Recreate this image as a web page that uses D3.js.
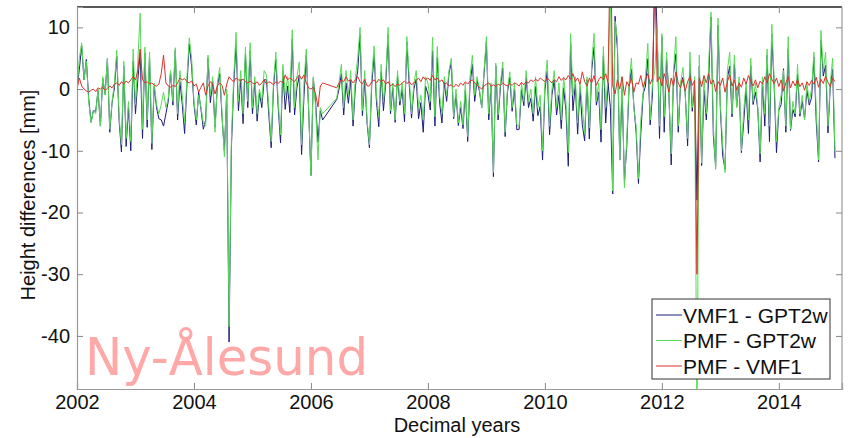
<script src="https://d3js.org/d3.v7.min.js"></script>

<style>
  body { margin: 0; background: #fff; }
  text { font-family: Arial, "Liberation Sans", sans-serif; fill: #111; }
</style>

<body>
<div id="vis"></div>

<script>
  // samples every 0.04 yr starting at 2002.00 (25 per year), null = no data
  const startYear = 2002
  const stepYear = 0.04

  const pmfGpt2w = [
    0, 5, 7.5, 1.5, 4.5, -2, -5.5, -3.5, -4, 0, -6, 2, -1, 5, -6.5, -2, 1, 6.3, -4.5, -9, 4.5, -8, -2, -8.5, 6.5,
    -2.5, 4.5, 12.3, -6.5, 6.8, -5, 6, -8.8, 1, -2.5, -4, -2.5, -0.5, -3, -1.5, 3, -2, 6.7, -4, 3, -1, -5.5, 2, 8.3, 5,
    -2, -5, -1, -3, -5.5, -6, 5.5, -1, 2, -7, 1, 3.5, -4, -11, 0, -38.5, -8, 2, 9.2, -2, 3, -4, 6.8, -2, 7.5,
    -3, 2, -4, 0, -2, 3, 2.3, -3, -8.5, 1, 6, -2, -7.4, 4, -1, 2, -2, 9.6, -3, 2, 4.4, -9, 1, 6.5, -3,
    -14, 2, -3, -11.5, -3, -4, null, null, null, null, null, -1.5, 1, 4, -3, 3, -1, 3, -5, 2, 5, 10, -3.5, 3, -5,
    -9, 2, 7, -1, -4.5, 4, -2, 2, 10, -3.5, 1, -5, 3, -2, 1, -4, 8.5, 2, -4, 1, 3, -3, -1, -5, 2,
    1, -2, 8.4, -4.5, 6.9, -1, -4, 2, -1, 3, 5, -4.5, 0, -5.5, -2, -5.8, 1, -7.7, 2, 5.5, -1, 2, 0, -3, 3,
    8.5, -4, 1, -13.5, 4.2, -4.2, 1, 4.4, -7, 0, 2.8, -3, 1, -5.8, -6, 1, -2, 3, -2, 0, -4, 2, -3, -1, -10,
    1, 4.7, -6, 0, 3, -3, 1, -5, 2, -2, -10.3, 9, -1, 2, -5.5, 1, -3, -7.2, 2, -6.3, 4, 9, -2, 1, -6.6,
    6.9, -3, 2, 16, -16.5, 11, 8, -11.5, 2, -16, -8, 1, 5, -3, -6, -14.5, -5, -0.5, 2, 7.4, -5, 1, 3, 10, -6,
    9, -4.5, 6, -1, -10.5, 3, 8.5, -6, 1, 3.5, -1, -8, 6, -3, 2, -55, 5.5, -12, 2, -4, 4, 12.5, -6, -13, 11.5,
    -2.5, -9, -13.5, 3, 6, -4, 5.5, -3, 2, -10, -3.5, 1, -5, 5, -2, 1, -3, -10.5, 2, -4, 6.5, -6, 10.5, 1.5, -8.5,
    -3, -1, 3, -6, 8.5, -6.5, -2, -4, 4, -4, -1, -5, 1, -2, 0, 6, -3.5, -11.5, 9.5, 3, 6, -6, 1, 5, -10
  ]

  const vmf1Gpt2w = [
    0, 3.2, 7, 1.5, 4.8, -1.5, -5.3, -3.5, -3.6, -0.2, -6, 1.7, -0.8, 4.9, -7, -2.2, 0.2, 5.3, -5.1, -10.2, 3.7, -9.3, -3, -10, 4.5,
    -4, 1.5, 5.8, -8, 5.8, -6.2, 5.2, -9.8, 0.4, -3, -4.8, -5, -6, -4, -2, 2.7, -2.6, 6.3, -5, 1.2, -2.5, -7.2, 0.8, 7.3, 3.7,
    -2.5, -5.8, -0.5, -3.3, -6.5, -5, 5, -2.2, 1.2, -6.2, 0.5, 2.5, -4.6, -10, -0.8, -41, -9.5, 0.8, 7.4, -3.5, 1.6, -5.6, 5.6, -3, 6.2,
    -4, 1.2, -5.2, -0.6, -3, 1.5, 1.5, -4.2, -9.5, 0.3, 4.8, -2.9, -8.7, 3, -3.3, 0.5, -3.8, 8.1, -4.2, 0.2, 2.1, -10.6, -1.3, 5.5, -3.2,
    -14, 1.7, -2.2, -8.6, -3.5, -5, null, null, null, null, null, -1.7, 0, 2.5, -4.2, 1, -2.3, 1.5, -6, 0.5, 3, 8.8, -4.3, 1.4, -5.5,
    -9.5, 0.8, 5.5, -2, -6.1, 2.8, -3.5, 1.2, 8.8, -4, 0.2, -5.4, 2.1, -2.6, 0, -5.3, 7.6, 0.8, -4.7, 0, 1.6, -4.8, -2.2, -7, 0.5,
    -0.8, -3.4, 6.2, -6, 5.1, -2.2, -5.5, 1.2, -2, 2.5, 4.3, -4.8, -0.8, -5.9, -3, -6.4, -0.2, -8.5, 0.7, 4, -2, 1.4, -0.3, -3, 2.5,
    7.7, -5, 0.5, -14.2, 3.8, -5, 0.4, 3.4, -7.7, -0.5, 1.9, -3.6, 0, -6.6, -6.5, -0.1, -2.7, 1.8, -3, -1.5, -5.2, 0.4, -4.3, -2.8, -11.5,
    -0.2, 2.9, -7.4, -1, 1.5, -4.2, -1, -6.4, 0.2, -3.5, -12.5, 7.4, -3.5, 0.8, -7.3, 0.2, -5.8, -8.4, 1.5, -8.1, 3, 6.8, -2.6, -0.5, -8.6,
    5.4, -5.5, 1, -3, -17, 11.8, 6.5, -11.5, 0, -15, -9.2, 0.5, 3.2, -2.5, -7, -15.3, -7.2, -0.8, 0.5, 4.9, -5.8, -0.8, 20, 8.8, -8,
    8.5, -7, 4.8, -0.5, -12.3, 2.5, 5.7, -7, 0.8, 1.9, -0.7, -9.2, 4, -3.6, 0.6, -18, 3.7, -12.4, -0.2, -5, 1.5, 11.7, -7.5, -12.6, 10.3,
    -3.1, -10.8, -13, 1.8, 3.7, -4.5, 4, -2.8, 1, -10.3, -5.3, 0.2, -7.2, 3.8, -2.5, -0.5, -3.2, -11.8, 1.2, -6, 5.5, -8.5, 8.9, 0.6, -10.3,
    -3.4, -2.5, 3.3, -7, 6.5, -6.7, -3.3, -4.5, 2.4, -4.4, -2, -4.8, -0.2, -2.6, -1.4, 5.2, -5.4, -11.8, 7.9, 2.1, 3.9, -7.1, 0.6, 3.2, -11.2
  ]

  const pmfVmf1 = [
    0, 1.8, 0.5, 0, -0.3, -0.5, -0.2, 0, -0.4, 0.2, 0, 0.3, -0.2, 0.1, 0.5, 0.2, 0.8, 1, 0.6, 1.2, 0.8, 1.3, 1, 1.5, 2,
    1.5, 3, 6.5, 1.5, 1, 1.2, 0.8, 1, 0.6, 0.5, 0.8, 2.5, 5.5, 1, 0.5, 0.3, 0.6, 0.4, 1, 1.8, 1.5, 1.7, 1.2, 1, 1.3,
    0.5, 0.8, -0.5, 0.3, 1, -1, 0.5, 1.2, 0.8, -0.8, 0.5, 1, 0.6, -1, 0.8, 2, 1.5, 1.2, 1.8, 1.5, 1.4, 1.6, 1.2, 1, 1.3,
    1, 0.8, 1.2, 0.6, 1, 1.5, 0.8, 1.2, 1, 0.7, 1.2, 0.9, 1.3, 1, 2.3, 1.5, 1.8, 1.5, 1.2, 1.8, 2.3, 1.6, 2.3, 1, 0.2,
    0, 0.3, -0.8, -2.9, 0.5, 1, null, null, null, null, null, 0.2, 1, 1.5, 1.2, 2, 1.3, 1.5, 1, 1.5, 2, 1.2, 0.8, 1.6, 0.5,
    0.5, 1.2, 1.5, 1, 1.6, 1.2, 1.5, 0.8, 1.2, 0.5, 0.8, 0.4, 0.9, 0.6, 1, 1.3, 0.9, 1.2, 0.7, 1, 1.4, 1.8, 1.2, 2, 1.5,
    1.8, 1.4, 2.2, 1.5, 1.8, 1.2, 1.5, 0.8, 1, 0.5, 0.7, 0.3, 0.8, 0.4, 1, 0.6, 1.2, 0.8, 1.3, 1.5, 1, 0.6, 0.3, 0, 0.5,
    0.8, 1, 0.5, 0.7, 0.4, 0.8, 0.6, 1, 0.7, 0.5, 0.9, 0.6, 1, 0.8, 0.5, 1.1, 0.7, 1.2, 1, 1.5, 1.2, 1.6, 1.3, 1.8, 1.5,
    1.2, 1.8, 1.4, 1, 1.5, 1.2, 2, 1.4, 1.8, 1.5, 2.2, 1.6, 2.5, 1.2, 1.8, 0.8, 2.8, 1.2, 0.5, 1.8, 1, 2.2, 0.6, 1.5, 2,
    1.5, 2.5, 1, 25, 0.5, -0.8, 1.5, 0, 2, -1, 1.2, 0.5, 1.8, -0.5, 1, 0.8, 2.2, 0.3, 1.5, 2.5, 0.8, 1.8, 18, 1.2, 2,
    0.5, 2.5, 1.2, -0.5, 1.8, 0.5, 2.8, 1, 0.2, 1.6, -0.3, 1.2, 2, 0.6, 1.4, -30, 1.8, 0.4, 2.2, 1, 2.5, 0.8, 1.5, -0.4, 1.2,
    0.6, 1.8, -0.5, 1.2, 2.3, 0.5, 1.5, -0.2, 1, 0.3, 1.8, 0.8, 2.2, 1.2, 0.5, 1.5, 0.2, 1.3, 0.8, 2, 1, 2.5, 1.6, 0.9, 1.8,
    0.4, 1.5, -0.3, 1, 2, 0.2, 1.3, 0.5, 1.6, 0.4, 1, -0.2, 1.2, 0.6, 1.4, 0.8, 1.9, 0.3, 1.6, 0.9, 2.1, 1.1, 0.4, 1.8, 1.2
  ]

  const xTicks = [2002, 2004, 2006, 2008, 2010, 2012, 2014]
  const yTicks = [10, 0, -10, -20, -30, -40]
  const seriesNames = ['VMF1 - GPT2w', 'PMF - GPT2w', 'PMF - VMF1']
  const seriesColors = ['#1c1c7a', '#5ada5a', '#d8332b']

  const width = 850, height = 438
  const plotLeft = 77, plotRight = 842, plotTop = 7, plotBottom = 389

  let svg = d3.select('#vis').append('svg')
    .attr('width', width)
    .attr('height', height)

  let x = d3.scaleLinear().domain([2002, 2015.08]).range([plotLeft, plotRight])
  let y = d3.scaleLinear().domain([-48.6, 13.3]).range([plotBottom, plotTop])

  svg.append('clipPath').attr('id', 'plotClip')
    .append('rect')
    .attr('x', plotLeft).attr('y', plotTop)
    .attr('width', plotRight - plotLeft).attr('height', plotBottom - plotTop)

  // turn a value array into points, gaps are just skipped so the line joins over them
  function toPoints(values) {
    return values
      .map(function (v, i) { return {t: startYear + i * stepYear, v: v} })
      .filter(function (d) { return d.v !== null })
  }

  let line = d3.line()
    .x(function (d) { return x(d.t) })
    .y(function (d) { return y(d.v) })

  let allSeries = [vmf1Gpt2w, pmfGpt2w, pmfVmf1]

  svg.append('g')
    .attr('clip-path', 'url(#plotClip)')
    .selectAll('path')
    .data(allSeries)
    .enter()
    .append('path')
    .attr('d', function (d) { return line(toPoints(d)) })
    .attr('fill', 'none')
    .attr('stroke', function (d, i) { return seriesColors[i] })
    .attr('stroke-width', 1)
    .attr('stroke-linejoin', 'round')

  // frame
  svg.append('line').attr('x1', plotLeft).attr('x2', plotRight).attr('y1', plotTop).attr('y2', plotTop)
    .attr('stroke', '#222').attr('stroke-width', 1.5)
  svg.append('line').attr('x1', plotRight).attr('x2', plotRight).attr('y1', plotTop).attr('y2', plotBottom)
    .attr('stroke', '#999').attr('stroke-width', 1.2)

  // plain hyphen minus like the original, not the unicode one d3 uses
  let plainNum = function (d) { return String(d) }

  // axes, ticks pointing inward
  let xAxis = svg.append('g')
    .attr('transform', 'translate(0,' + plotBottom + ')')
    .call(d3.axisBottom(x).tickValues(xTicks).tickFormat(plainNum).tickSize(-6).tickPadding(6))
  let xAxisTop = svg.append('g')
    .attr('transform', 'translate(0,' + plotTop + ')')
    .call(d3.axisTop(x).tickValues(xTicks).tickSize(-6).tickFormat(''))
  let yAxis = svg.append('g')
    .attr('transform', 'translate(' + plotLeft + ',0)')
    .call(d3.axisLeft(y).tickValues(yTicks).tickFormat(plainNum).tickSize(-6).tickPadding(7))
  let yAxisRight = svg.append('g')
    .attr('transform', 'translate(' + plotRight + ',0)')
    .call(d3.axisRight(y).tickValues(yTicks).tickSize(-6).tickFormat(''))

  svg.selectAll('.domain').attr('stroke', '#999').attr('stroke-width', 1.2)
  xAxisTop.select('.domain').remove()
  yAxisRight.select('.domain').remove()
  svg.selectAll('.tick line').attr('stroke', '#888')
  svg.selectAll('.tick text')
    .style('font-size', '20px')
    .style('font-family', 'Arial, "Liberation Sans", sans-serif')
    .attr('fill', '#111')

  // axis titles
  svg.append('text')
    .attr('x', 457).attr('y', 432)
    .attr('text-anchor', 'middle')
    .style('font-size', '20px')
    .text('Decimal years')

  svg.append('text')
    .attr('transform', 'translate(35,195) rotate(-90)')
    .attr('text-anchor', 'middle')
    .style('font-size', '20px')
    .text('Height differences [mm]')

  // station label
  svg.append('text')
    .attr('x', 85).attr('y', 375)
    .attr('textLength', 283)
    .attr('lengthAdjust', 'spacingAndGlyphs')
    .style('font-family', '"Comic Sans MS", "DejaVu Sans", sans-serif')
    .style('font-size', '52px')
    .style('fill', '#ffa8a8')
    .text('Ny-Ålesund')

  // legend
  let legend = svg.append('g')
  legend.append('rect')
    .attr('x', 652).attr('y', 299)
    .attr('width', 178).attr('height', 80)
    .attr('fill', '#fff')
    .attr('stroke', '#333')

  seriesNames.forEach(function (name, i) {
    let ly = 315 + i * 25.5
    legend.append('line')
      .attr('x1', 656).attr('x2', 682)
      .attr('y1', ly).attr('y2', ly)
      .attr('stroke', seriesColors[i])
    legend.append('text')
      .attr('x', 683).attr('y', ly + 7.5)
      .style('font-size', '21px')
      .text(name)
  })
</script>
</body>
